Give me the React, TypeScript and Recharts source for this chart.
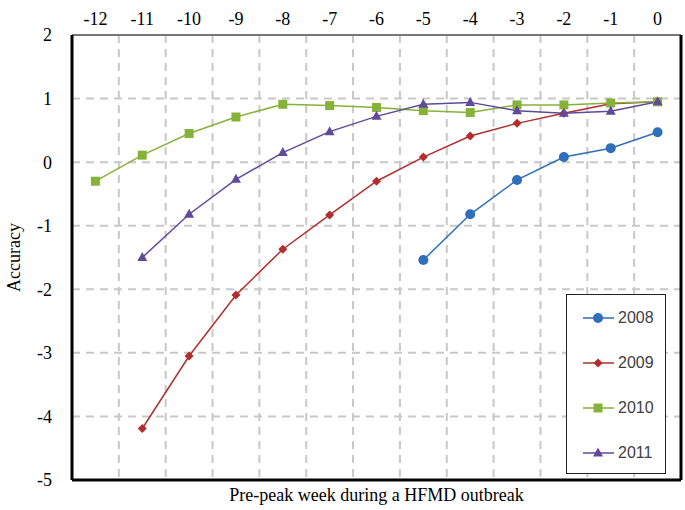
import { CartesianGrid, Legend, Line, LineChart, ReferenceLine, XAxis, YAxis } from 'recharts';

const weeks = [-12, -11, -10, -9, -8, -7, -6, -5, -4, -3, -2, -1, 0];
const yTicks = [-5, -4, -3, -2, -1, 0, 1, 2];
const gridWeeks = [-11.5, -10.5, -9.5, -8.5, -7.5, -6.5, -5.5, -4.5, -3.5, -2.5, -1.5, -0.5];

const acc2008 = [null, null, null, null, null, null, null, -1.54, -0.82, -0.28, 0.08, 0.22, 0.47];
const acc2009 = [null, -4.19, -3.05, -2.09, -1.37, -0.83, -0.3, 0.08, 0.41, 0.61, 0.77, 0.92, 0.95];
const acc2010 = [-0.3, 0.11, 0.45, 0.71, 0.91, 0.89, 0.86, 0.81, 0.78, 0.9, 0.9, 0.93, 0.95];
const acc2011 = [null, -1.5, -0.82, -0.27, 0.15, 0.48, 0.72, 0.91, 0.94, 0.81, 0.77, 0.8, 0.95];

const series = [
  { name: '2008', values: acc2008, color: '#2F6EBA', shape: 'circle' },
  { name: '2009', values: acc2009, color: '#B22E2E', shape: 'diamond' },
  { name: '2010', values: acc2010, color: '#86B23A', shape: 'square' },
  { name: '2011', values: acc2011, color: '#604A9A', shape: 'triangle' },
];

const data = weeks.map((week, i) => {
  const row: Record<string, number | null> = { week };
  series.forEach(s => (row[s.name] = s.values[i]));
  return row;
});

const xDomain = [-12.5, 0.5];
const serif = '"Liberation Serif", "Times New Roman", serif';
const gridStroke = '#C8C8C8';

function Marker({ shape, cx, cy, color }: { shape: string; cx: number; cy: number; color: string }) {
  if (shape === 'circle') return <circle cx={cx} cy={cy} r={5} fill={color} />;
  if (shape === 'diamond')
    return <polygon points={`${cx},${cy - 4.5} ${cx + 4.5},${cy} ${cx},${cy + 4.5} ${cx - 4.5},${cy}`} fill={color} />;
  if (shape === 'square') return <rect x={cx - 4.5} y={cy - 4.5} width={9} height={9} fill={color} />;
  return <polygon points={`${cx},${cy - 5.5} ${cx + 5},${cy + 3.5} ${cx - 5},${cy + 3.5}`} fill={color} />;
}

function LegendBox({ payload }: any) {
  return (
    <div
      style={{
        width: 100,
        height: 180,
        border: '1px solid #222',
        background: '#fff',
        boxSizing: 'border-box',
        padding: '0 0 0 15px',
        fontFamily: '"Liberation Sans", Arial, sans-serif',
        fontSize: 16,
        color: '#404040',
      }}
    >
      {(payload || []).map((p: any) => {
        const s = series.find(x => x.name === p.value)!;
        return (
          <div key={p.value} style={{ display: 'flex', alignItems: 'center', height: 45 }}>
            <svg width={34} height={14}>
              <line x1={1} y1={7} x2={32} y2={7} stroke={s.color} strokeWidth={1.5} />
              <Marker shape={s.shape} cx={16} cy={7} color={s.color} />
            </svg>
            <span style={{ marginLeft: 2 }}>{p.value}</span>
          </div>
        );
      })}
    </div>
  );
}

export default function App() {
  return (
    <div>
      <style>{`body{margin:0}`}</style>
      <LineChart width={685} height={510} data={data} margin={{ top: 5, right: 4, bottom: 0, left: 0 }}>
        <CartesianGrid
          stroke={gridStroke}
          strokeWidth={2}
          strokeDasharray="8 6"
          verticalCoordinatesGenerator={({ offset }: any) =>
            gridWeeks.map(w => offset.left + ((w - xDomain[0]) / (xDomain[1] - xDomain[0])) * offset.width)
          }
        />
        <XAxis
          dataKey="week"
          type="number"
          orientation="top"
          domain={xDomain}
          ticks={weeks}
          height={30}
          axisLine={false}
          tickLine={false}
          tickSize={0}
          tickMargin={10}
          tick={{ fill: '#000', fontSize: 18, fontFamily: serif }}
        />
        <XAxis
          xAxisId="t"
          dataKey="week"
          type="number"
          orientation="bottom"
          domain={xDomain}
          height={30}
          tick={false}
          axisLine={false}
          tickLine={false}
          label={{ value: 'Pre-peak week during a HFMD outbreak', position: 'center', fill: '#000', fontSize: 18, fontFamily: serif }}
        />
        <YAxis
          type="number"
          domain={[-5, 2]}
          ticks={yTicks}
          width={72}
          axisLine={false}
          tickLine={false}
          tickSize={0}
          tickMargin={20}
          tick={{ fill: '#000', fontSize: 18, fontFamily: serif }}
          label={{
            value: 'Accuracy',
            angle: -90,
            position: 'insideLeft',
            offset: 14,
            fill: '#000',
            fontSize: 18,
            fontFamily: serif,
            style: { textAnchor: 'middle' },
          }}
        />
        {series.map(s => (
          <Line
            key={s.name}
            dataKey={s.name}
            name={s.name}
            stroke={s.color}
            strokeWidth={1.5}
            isAnimationActive={false}
            dot={(p: any) =>
              p.cy == null || p.value == null ? (
                <g key={`${s.name}-${p.index}`} />
              ) : (
                <Marker key={`${s.name}-${p.index}`} shape={s.shape} cx={p.cx} cy={p.cy} color={s.color} />
              )
            }
            activeDot={false}
          />
        ))}
        <ReferenceLine y={2} stroke="#777" strokeWidth={2} />
        <ReferenceLine x={-12.5} stroke="#000" strokeWidth={3} />
        <ReferenceLine x={0.5} stroke="#000" strokeWidth={3} />
        <ReferenceLine y={-5} stroke="#000" strokeWidth={3} />
        <Legend
          layout="vertical"
          align="center"
          verticalAlign="middle"
          content={<LegendBox />}
          wrapperStyle={{ position: 'absolute', left: 566, top: 294, width: 100, height: 180 }}
        />
      </LineChart>
    </div>
  );
}
